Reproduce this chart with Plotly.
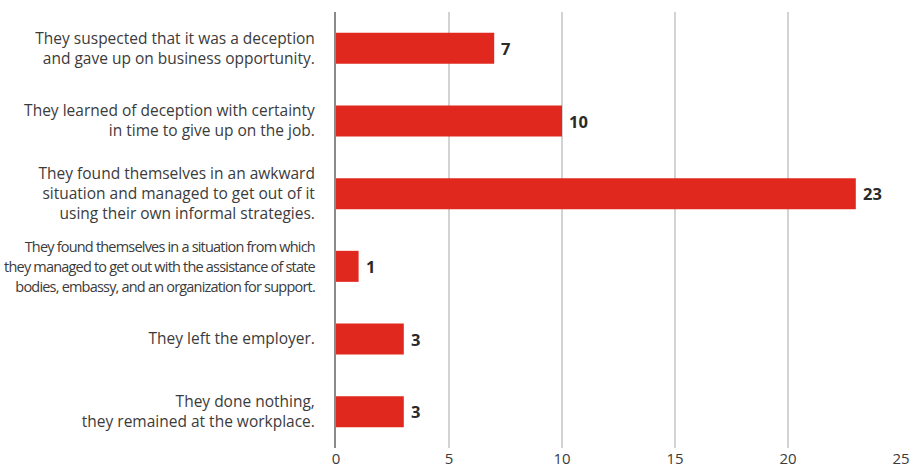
import plotly.graph_objects as go

# Survey responses: what respondents did when they met deception
categories = [
    "They suspected that it was a deception<br>and gave up on business opportunity.",
    "They learned of deception with certainty<br>in time to give up on the job.",
    "They found themselves in an awkward<br>situation and managed to get out of it<br>using their own informal strategies.",
    "They found themselves in a situation from which<br>they managed to get out with the assistance of state<br>bodies, embassy, and an organization for support.",
    "They left the employer.",
    "They done nothing,<br>they remained at the workplace.",
]
counts = [7, 10, 23, 1, 3, 3]
x_ticks = [0, 5, 10, 15, 20, 25]

BAR_RED = "#e0281f"
TEXT_DARK = "#3b3b3b"
# tighter setting for the long fourth label
TIGHT = "font-size:14.5px;letter-spacing:-0.8px"

tick_text = []
for i, c in enumerate(categories):
    if i == 3:
        parts = c.split("<br>")
        tick_text.append("<br>".join(f'<span style="{TIGHT}">{p}</span>' for p in parts))
    else:
        tick_text.append(c)

ids = list(range(len(categories)))

fig = go.Figure(
    go.Bar(
        x=counts,
        y=ids,
        orientation="h",
        marker=dict(color=BAR_RED, line=dict(width=0)),
        hoverinfo="skip",
    )
)

for i, v in zip(ids, counts):
    fig.add_annotation(
        x=v, y=i, text=f"<b>{v}</b>", showarrow=False,
        xanchor="left", yanchor="middle", xshift=5,
        font=dict(family="Open Sans, sans-serif", size=16.5, color="#2a2a2a"),
    )

fig.update_layout(
    width=915, height=469,
    margin=dict(l=336, r=14, t=12, b=21, autoexpand=False),
    paper_bgcolor="white", plot_bgcolor="white",
    bargap=0.573,
    showlegend=False,
    font=dict(family="Open Sans, sans-serif", color=TEXT_DARK),
)

fig.update_xaxes(
    range=[0, 25], tickvals=x_ticks, ticktext=[str(t) for t in x_ticks],
    showgrid=True, gridcolor="#d3d3d3", gridwidth=1.5,
    zeroline=False, showline=False, ticks="", automargin=False,
    tickfont=dict(size=15, color=TEXT_DARK),
)

fig.update_yaxes(
    tickvals=ids, ticktext=tick_text, autorange="reversed",
    range=[5.5, -0.5],
    showgrid=False, zeroline=False,
    showline=True, linecolor="#8a8a8a", linewidth=2,
    ticks="", ticklabelstandoff=16, automargin=False,
    tickfont=dict(size=15.5, color=TEXT_DARK),
)

fig.write_html("out.html")
